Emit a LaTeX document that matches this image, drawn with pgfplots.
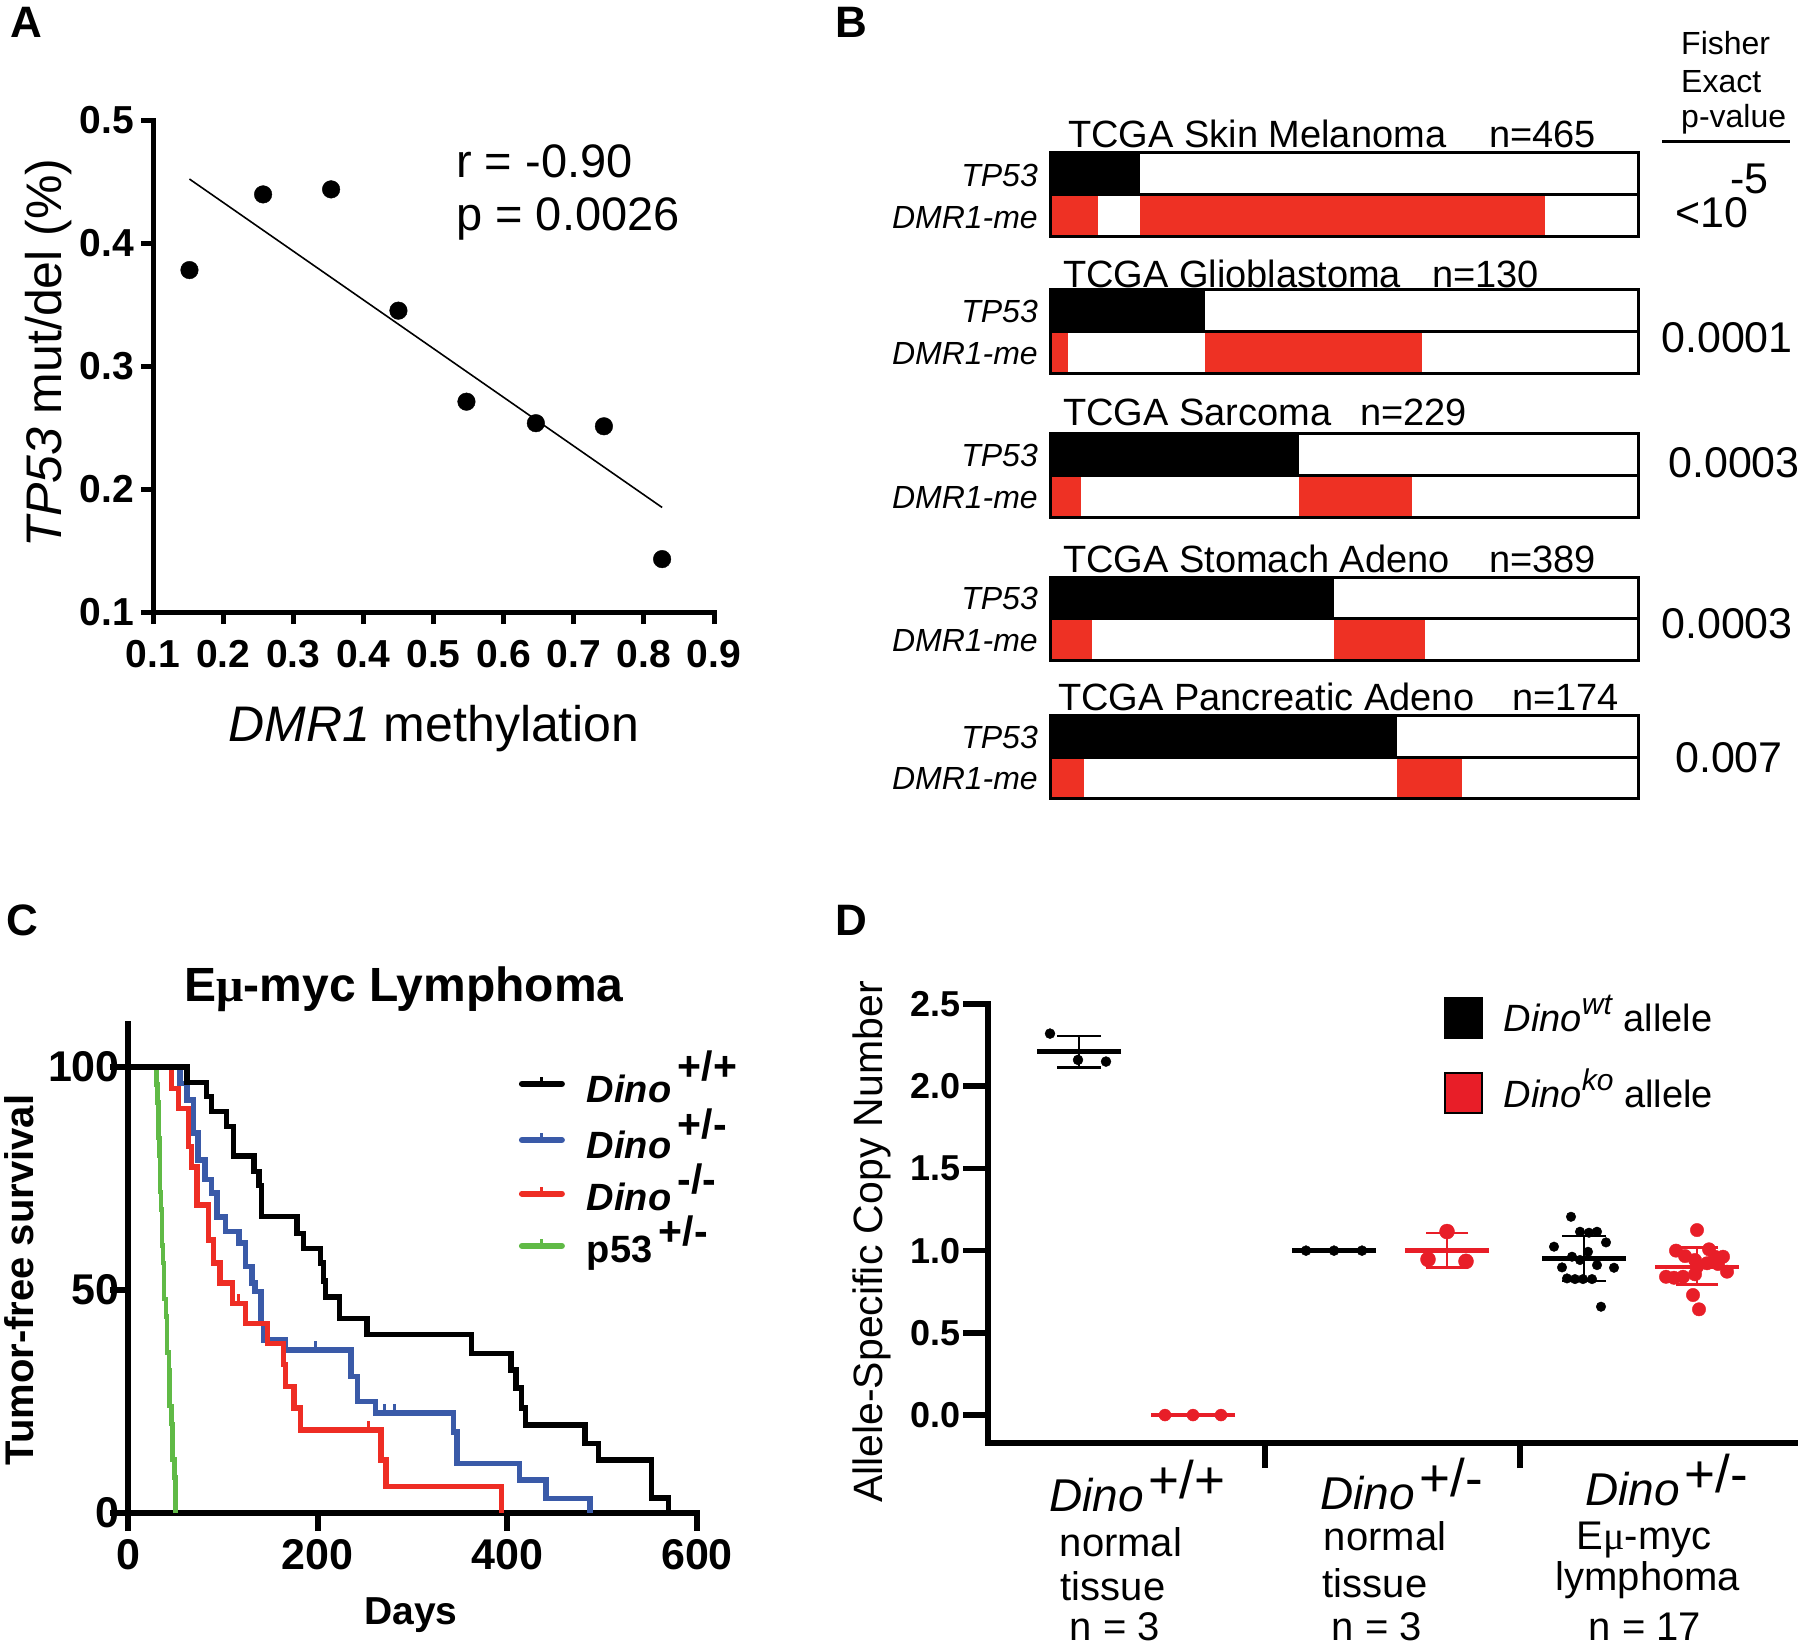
\documentclass[border=0pt]{standalone}
\usepackage{fontspec}
\setmainfont{Liberation Sans}
\newfontfamily\mufont{Liberation Serif}
\usepackage{pgfplots}
\pgfplotsset{compat=1.18}
\definecolor{bred}{RGB}{238,49,36}
\definecolor{kmred}{RGB}{238,45,36}
\definecolor{kmblue}{RGB}{58,90,168}
\definecolor{kmgreen}{RGB}{96,186,70}
\definecolor{dred}{RGB}{232,30,40}
\newcommand{\fs}[1]{\fontsize{#1pt}{#1pt}\selectfont}
\pgfplotsset{
  panel/.style={scale only axis, clip=false, anchor=south west,
    axis x line*=bottom, axis y line*=left,
    tick align=outside,
    /pgf/number format/assume math mode=true},
}
\begin{document}
\begin{tikzpicture}
\path[use as bounding box] (0pt,0pt) rectangle (1800pt,-1651pt);

% ---------- panel letters
\node[anchor=base west, inner sep=0pt, font=\fs{44}\bfseries] at (10pt,-38pt) {A};
\node[anchor=base west, inner sep=0pt, font=\fs{44}\bfseries] at (835pt,-38pt) {B};
\node[anchor=base west, inner sep=0pt, font=\fs{44}\bfseries] at (6pt,-935pt) {C};
\node[anchor=base west, inner sep=0pt, font=\fs{44}\bfseries] at (835pt,-935pt) {D};

% ================= PANEL A
\begin{axis}[panel,
  at={(153pt,-612pt)}, width=561pt, height=492pt,
  xmin=0.1, xmax=0.9, ymin=0.1, ymax=0.5,
  axis line style={line width=5pt, line cap=rect},
  xtick={0.1,0.2,0.3,0.4,0.5,0.6,0.7,0.8,0.9},
  ytick={0.1,0.2,0.3,0.4,0.5},
  major tick length=12pt,
  major tick style={line width=5pt, black},
  tick label style={font=\fs{39}\bfseries, /pgf/number format/fixed, /pgf/number format/precision=1},
  yticklabel style={inner sep=7pt},
  xticklabel style={yshift=-13pt},
]
\addplot[black, line width=1.6pt] coordinates {(0.152,0.452) (0.826,0.185)};
\addplot[only marks, mark=*, mark size=8.8pt, black] coordinates {
  (0.152,0.378) (0.257,0.4395) (0.354,0.4436) (0.450,0.345)
  (0.547,0.271) (0.646,0.2535) (0.743,0.251) (0.826,0.143)};
\end{axis}
\node[anchor=base west, inner sep=0pt, font=\fs{47}] at (456pt,-178pt) {r = -0.90};
\node[anchor=base west, inner sep=0pt, font=\fs{47}] at (456pt,-230pt) {p = 0.0026};
\node[anchor=base, inner sep=0pt, font=\fs{50}] at (434pt,-741pt) {\textit{DMR1} methylation};
\node[anchor=base, inner sep=0pt, font=\fs{50}, rotate=90] at (61pt,-353pt) {\textit{TP53} mut/del (\%)};

% ================= PANEL B
\begin{axis}[scale only axis, clip=false, anchor=south west, at={(1050pt,-800pt)},
  width=588pt, height=650pt, xmin=0, xmax=1, ymin=-800, ymax=-150, hide axis]
% Skin Melanoma
\addplot[fill=black, draw=none] coordinates {(0,-153) (0.153,-153) (0.153,-195) (0,-195)} -- cycle;
\addplot[fill=bred, draw=none] coordinates {(0,-195) (0.082,-195) (0.082,-237) (0,-237)} -- cycle;
\addplot[fill=bred, draw=none] coordinates {(0.153,-195) (0.842,-195) (0.842,-237) (0.153,-237)} -- cycle;
% Glioblastoma
\addplot[fill=black, draw=none] coordinates {(0,-289) (0.264,-289) (0.264,-331) (0,-331)} -- cycle;
\addplot[fill=bred, draw=none] coordinates {(0,-331) (0.031,-331) (0.031,-373) (0,-373)} -- cycle;
\addplot[fill=bred, draw=none] coordinates {(0.264,-331) (0.633,-331) (0.633,-373) (0.264,-373)} -- cycle;
% Sarcoma
\addplot[fill=black, draw=none] coordinates {(0,-433) (0.423,-433) (0.423,-475) (0,-475)} -- cycle;
\addplot[fill=bred, draw=none] coordinates {(0,-475) (0.053,-475) (0.053,-517) (0,-517)} -- cycle;
\addplot[fill=bred, draw=none] coordinates {(0.423,-475) (0.616,-475) (0.616,-517) (0.423,-517)} -- cycle;
% Stomach
\addplot[fill=black, draw=none] coordinates {(0,-577) (0.483,-577) (0.483,-618) (0,-618)} -- cycle;
\addplot[fill=bred, draw=none] coordinates {(0,-618) (0.071,-618) (0.071,-660) (0,-660)} -- cycle;
\addplot[fill=bred, draw=none] coordinates {(0.483,-618) (0.638,-618) (0.638,-660) (0.483,-660)} -- cycle;
% Pancreatic
\addplot[fill=black, draw=none] coordinates {(0,-715) (0.590,-715) (0.590,-757) (0,-757)} -- cycle;
\addplot[fill=bred, draw=none] coordinates {(0,-757) (0.058,-757) (0.058,-798) (0,-798)} -- cycle;
\addplot[fill=bred, draw=none] coordinates {(0.590,-757) (0.701,-757) (0.701,-798) (0.590,-798)} -- cycle;
% outlines
\addplot[draw=black, line width=3pt] coordinates {(0,-153) (1,-153) (1,-237) (0,-237)} -- cycle;
\addplot[draw=black, line width=3pt] coordinates {(0,-195) (1,-195)};
\addplot[draw=black, line width=3pt] coordinates {(0,-289) (1,-289) (1,-373) (0,-373)} -- cycle;
\addplot[draw=black, line width=3pt] coordinates {(0,-331) (1,-331)};
\addplot[draw=black, line width=3pt] coordinates {(0,-433) (1,-433) (1,-517) (0,-517)} -- cycle;
\addplot[draw=black, line width=3pt] coordinates {(0,-475) (1,-475)};
\addplot[draw=black, line width=3pt] coordinates {(0,-577) (1,-577) (1,-660) (0,-660)} -- cycle;
\addplot[draw=black, line width=3pt] coordinates {(0,-618) (1,-618)};
\addplot[draw=black, line width=3pt] coordinates {(0,-715) (1,-715) (1,-798) (0,-798)} -- cycle;
\addplot[draw=black, line width=3pt] coordinates {(0,-757) (1,-757)};
\end{axis}
\begin{scope}[every node/.style={inner sep=0pt, font=\fs{38}}]
\node[anchor=base west] at (1068pt,-148pt) {TCGA Skin Melanoma};
\node[anchor=base west] at (1489pt,-148pt) {n=465};
\node[anchor=base west] at (1063pt,-287pt) {TCGA Glioblastoma};
\node[anchor=base west] at (1432pt,-287pt) {n=130};
\node[anchor=base west] at (1063pt,-425pt) {TCGA Sarcoma};
\node[anchor=base west] at (1360pt,-425pt) {n=229};
\node[anchor=base west] at (1063pt,-572pt) {TCGA Stomach Adeno};
\node[anchor=base west] at (1489pt,-572pt) {n=389};
\node[anchor=base west] at (1058pt,-710pt) {TCGA Pancreatic Adeno};
\node[anchor=base west] at (1512pt,-710pt) {n=174};
\end{scope}
\begin{scope}[every node/.style={inner sep=0pt, font=\fs{32}\itshape, anchor=base east}]
\node at (1038pt,-186pt) {TP53};  \node at (1038pt,-228pt) {DMR1-me};
\node at (1038pt,-322pt) {TP53};  \node at (1038pt,-364pt) {DMR1-me};
\node at (1038pt,-466pt) {TP53};  \node at (1038pt,-508pt) {DMR1-me};
\node at (1038pt,-609pt) {TP53};  \node at (1038pt,-651pt) {DMR1-me};
\node at (1038pt,-748pt) {TP53};  \node at (1038pt,-789pt) {DMR1-me};
\end{scope}
\begin{scope}[every node/.style={inner sep=0pt, font=\fs{43}}]
\node[anchor=base west] at (1675pt,-227pt) {<10\hspace{-18pt}\raisebox{34pt}{-5}};
\node[anchor=base] at (1727pt,-352pt) {0.0001};
\node[anchor=base] at (1734pt,-477pt) {0.0003};
\node[anchor=base] at (1727pt,-638pt) {0.0003};
\node[anchor=base] at (1729pt,-772pt) {0.007};
\end{scope}
\begin{scope}[every node/.style={inner sep=0pt, font=\fs{32}, anchor=base west}]
\node at (1681pt,-55pt) {Fisher};
\node at (1681pt,-93pt) {Exact};
\node at (1681pt,-128pt) {p-value};
\end{scope}
\draw[line width=3pt] (1662pt,-142pt) -- (1790pt,-142pt);

% ================= PANEL C
\begin{axis}[panel,
  at={(128pt,-1513pt)}, width=569pt, height=489pt,
  xmin=0, xmax=600, ymin=0, ymax=109.6,
  axis line style={line width=6pt, line cap=rect},
  xtick={0,200,400,600}, ytick={0,50,100},
  major tick length=18pt,
  major tick style={line width=6pt, black},
  tick label style={font=\fs{43}\bfseries},
  yticklabel style={inner sep=0pt, xshift=10pt},
  xticklabel style={yshift=-5pt},
  legend style={at={(axis cs:412,104)}, anchor=north west, draw=none, fill=none,
    inner sep=0pt, row sep=0pt, font=\fs{38}\bfseries,
    /tikz/every odd column/.append style={column sep=20pt}},
  legend cell align=left,
  legend image code/.code={\draw[line width=6pt, line cap=round] (0pt,-6pt) -- (40pt,-6pt);
    \draw[line width=3pt] (20pt,-6pt) -- (20pt,1pt);},
]
\addlegendimage{black}
\addlegendentry{\textit{Dino}\,\raisebox{22pt}{\fs{41}+/+}}
\addlegendimage{kmblue}
\addlegendentry{\textit{Dino}\,\raisebox{20pt}{\fs{41}+/-}}
\addlegendimage{kmred}
\addlegendentry{\textit{Dino}\,\raisebox{17pt}{\fs{41}-/-}}
\addlegendimage{kmgreen}
\addlegendentry{p53\,\raisebox{17pt}{\fs{41}+/-}}
% p53 +/-
\addplot[const plot, kmgreen, line width=4.5pt, forget plot] coordinates {
  (0,100) (30,96) (31,92) (32,84) (33,80) (34,72) (35,68) (36,60) (37,56) (38,48)
  (40,44) (41,36) (43,32) (44,24) (46,20) (47,12) (49,8) (50,0)};
% Dino +/-
\addplot[const plot, kmblue, line width=5.5pt, forget plot] coordinates {
  (0,100) (55,96.3) (62,92.6) (69,85.2) (74,79.1) (81,74.7) (88,71.7) (94,66.4)
  (103,63.1) (117,60.5) (124,55.2) (131,51.5) (134,49.6) (140,42.5) (143,38.8)
  (166,36.5) (235,30.6) (242,25) (261,22.4) (343,18.2) (347,11.1) (413,7.4)
  (441,3.3) (487,0)};
\addplot[only marks, mark=|, mark size=5pt, kmblue, mark options={line width=3pt, yshift=4pt}, forget plot]
  coordinates {(198,36.5) (270,22.4) (281,22.4)};
% Dino -/-
\addplot[const plot, kmred, line width=5.5pt, forget plot] coordinates {
  (0,100) (46,95.2) (53,90.7) (64,82.1) (67,77.6) (73,69) (85,61.2) (90,56)
  (97,51.5) (110,47) (124,42.5) (147,38) (164,33.3) (166,28.3) (175,23.5)
  (182,18.6) (267,11.9) (272,5.9) (394,0)};
\addplot[only marks, mark=|, mark size=5pt, kmred, mark options={line width=3pt, yshift=4pt}, forget plot]
  coordinates {(117,47) (254,18.6)};
% Dino +/+
\addplot[const plot, black, line width=5.5pt, forget plot] coordinates {
  (0,100) (62,96.5) (83,93.3) (88,90) (104,86.6) (111,80) (133,76.5) (138,73.4)
  (141,66.5) (178,62.7) (185,59.3) (203,56) (206,52) (208,48.4) (223,43.6)
  (252,40) (362,35.8) (404,32) (409,28) (415,23.5) (419,19.7) (482,15.6)
  (496,11.9) (552,3.4) (570,0)};
\end{axis}
\node[anchor=base, inner sep=0pt, font=\fs{48}\bfseries] at (404pt,-1001pt) {E{\mufont μ}-myc Lymphoma};
\node[anchor=base, inner sep=0pt, font=\fs{40}\bfseries, rotate=90] at (33pt,-1280pt) {Tumor-free survival};
\node[anchor=base, inner sep=0pt, font=\fs{39}\bfseries] at (411pt,-1624pt) {Days};

% ================= PANEL D
\begin{axis}[panel,
  at={(988pt,-1443pt)}, width=807pt, height=439pt,
  xmin=988, xmax=1795, ymin=-0.17, ymax=2.5,
  axis line style={line width=5.5pt, line cap=rect},
  xtick={1265,1520}, xticklabels={},
  ytick={0,0.5,1,1.5,2,2.5},
  major tick length=25pt,
  major tick style={line width=5.5pt, black},
  tick label style={font=\fs{36}\bfseries},
  yticklabel style={inner sep=2pt, /pgf/number format/fixed, /pgf/number format/fixed zerofill, /pgf/number format/precision=1},
  unbounded coords=jump,
  legend style={at={(axis cs:1444,2.567)}, anchor=north west, draw=none, fill=none,
    inner sep=0pt, row sep=28pt, font=\fs{38},
    /tikz/every odd column/.append style={column sep=19pt}},
  legend cell align=left,
]
\addlegendimage{legend image code/.code={\filldraw[fill=black, draw=black, line width=1.5pt] (0pt,-24pt) rectangle (37pt,16pt);}}
\addlegendentry{\textit{Dino}\raisebox{17pt}{\fs{30}\textit{wt}} allele}
\addlegendimage{legend image code/.code={\filldraw[fill=dred, draw=black, line width=1.5pt] (0pt,-24pt) rectangle (37pt,16pt);}}
\addlegendentry{\textit{Dino}\raisebox{17pt}{\fs{30}\textit{ko}} allele}
% mean lines
\addplot[only marks, mark=-, mark size=42pt, black, mark options={line width=4.5pt}, forget plot]
  coordinates {(1079,2.21) (1334,1.0) (1584,0.953)};
\addplot[only marks, mark=-, mark size=42pt, dred, mark options={line width=4.5pt}, forget plot]
  coordinates {(1193,0.0) (1447,1.0) (1697,0.902)};
% SD caps
\addplot[only marks, mark=-, mark size=22pt, black, mark options={line width=2.5pt}, forget plot]
  coordinates {(1079,2.305) (1079,2.115) (1584,1.089) (1584,0.815)};
\addplot[only marks, mark=-, mark size=21pt, dred, mark options={line width=2.5pt}, forget plot]
  coordinates {(1447,1.107) (1447,0.898) (1697,1.018) (1697,0.795)};
\addplot[black, line width=2.5pt, forget plot] coordinates {(1079,2.305) (1079,2.115) (nan,nan) (1584,1.089) (1584,0.815)};
\addplot[dred, line width=2.5pt, forget plot] coordinates {(1447,1.107) (1447,0.898) (nan,nan) (1697,1.018) (1697,0.795)};
% points
\addplot[only marks, mark=*, mark size=5pt, black, forget plot] coordinates {
  (1050,2.32) (1078,2.16) (1106,2.15)
  (1306,1.0) (1334,1.0) (1362,1.0)};
\addplot[only marks, mark=*, mark size=4.8pt, black, forget plot] coordinates {
  (1571,1.206) (1580,1.115) (1589,1.109) (1597,1.115) (1554,1.024) (1606,1.050)
  (1588,0.993) (1572,0.963) (1580,0.943) (1562,0.898) (1597,0.912) (1614,0.896)
  (1567,0.831) (1575,0.827) (1583,0.827) (1592,0.827) (1601,0.659)};
\addplot[only marks, mark=*, mark size=6pt, dred, forget plot] coordinates {
  (1165,0.0) (1193,0.0) (1221,0.0)};
\addplot[only marks, mark=*, mark size=7.5pt, dred, forget plot] coordinates {
  (1428,0.947) (1447,1.116) (1466,0.935)};
\addplot[only marks, mark=*, mark size=6.7pt, dred, forget plot] coordinates {
  (1697,1.125) (1676,1.000) (1709,1.008) (1685,0.967) (1695,0.943) (1715,0.963)
  (1723,0.963) (1707,0.923) (1718,0.919) (1727,0.872) (1697,0.902) (1666,0.841)
  (1674,0.835) (1683,0.841) (1695,0.856) (1693,0.730) (1699,0.643)};
\end{axis}
\node[anchor=base, inner sep=0pt, font=\fs{41}, rotate=90] at (882pt,-1242pt) {Allele-Specific Copy Number};
\begin{scope}[every node/.style={inner sep=0pt, font=\fs{40}}]
\node[anchor=base west] at (1049pt,-1511pt) {\fs{46}\textit{Dino}\hspace{5pt}\raisebox{13pt}{\fs{53}+/+}};
\node[anchor=base] at (1121pt,-1556pt) {normal};
\node[anchor=base] at (1113pt,-1600pt) {tissue};
\node[anchor=base] at (1115pt,-1640pt) {n = 3};
\node[anchor=base west] at (1320pt,-1509pt) {\fs{46}\textit{Dino}\hspace{5pt}\raisebox{13pt}{\fs{53}+/-}};
\node[anchor=base] at (1385pt,-1550pt) {normal};
\node[anchor=base] at (1375pt,-1597pt) {tissue};
\node[anchor=base] at (1377pt,-1640pt) {n = 3};
\node[anchor=base west] at (1585pt,-1505pt) {\fs{46}\textit{Dino}\hspace{5pt}\raisebox{13pt}{\fs{53}+/-}};
\node[anchor=base] at (1644pt,-1549pt) {E{\mufont μ}-myc};
\node[anchor=base] at (1648pt,-1590pt) {lymphoma};
\node[anchor=base] at (1645pt,-1640pt) {n = 17};
\end{scope}
\end{tikzpicture}
\end{document}
